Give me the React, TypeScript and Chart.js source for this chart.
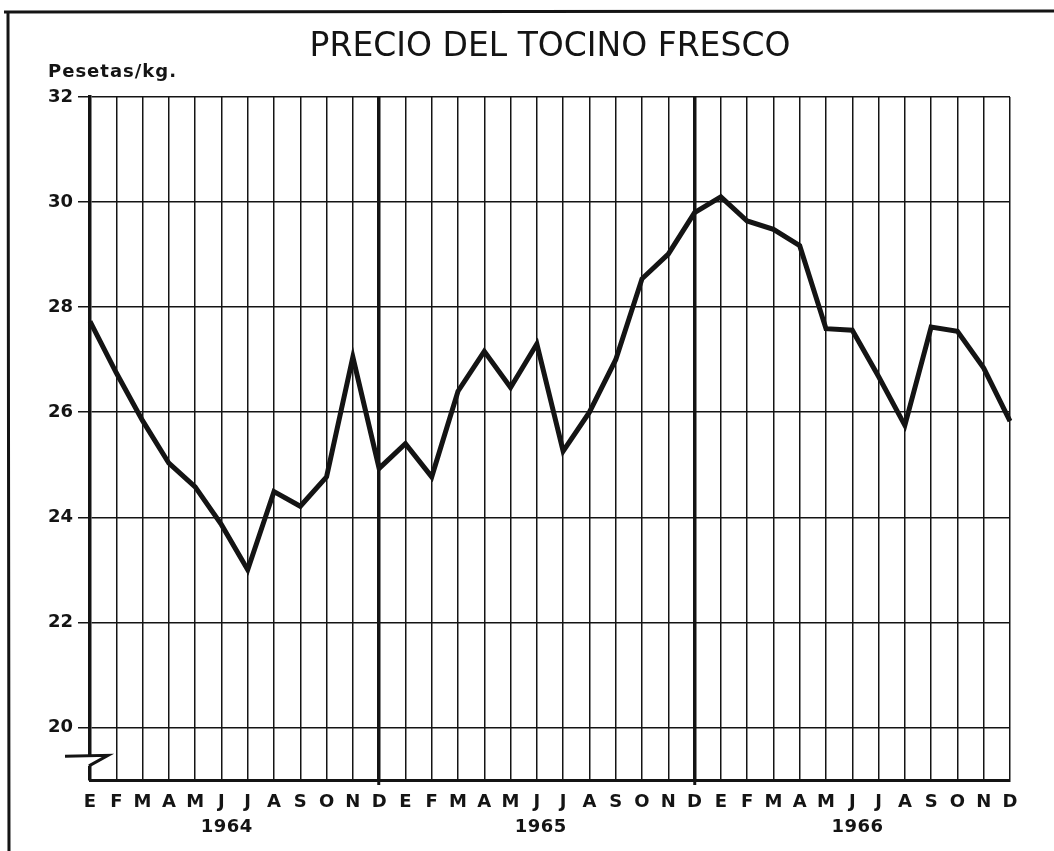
import React, { useEffect, useRef } from 'react';
import { Chart, registerables } from 'chart.js';

Chart.register(...registerables);

const monthLetters = ['E', 'F', 'M', 'A', 'M', 'J', 'J', 'A', 'S', 'O', 'N', 'D'];
const months = [...monthLetters, ...monthLetters, ...monthLetters];
const prices = [
  27.73, 26.75, 25.84, 25.03, 24.58, 23.86, 23.0, 24.49, 24.21, 24.77, 27.05, 24.93,
  25.4, 24.77, 26.4, 27.16, 26.47, 27.3, 25.26, 26.0, 27.0, 28.54, 29.01, 29.8,
  30.1, 29.64, 29.48, 29.17, 27.59, 27.56, 26.68, 25.75, 27.62, 27.54, 26.84, 25.83,
];
const yTickValues = [20, 22, 24, 26, 28, 30, 32];
const years = ['1964', '1965', '1966'];
const yearCenters = [5.2, 17.15, 29.2];
const yearEndIndexes = [11, 23];

const INK = '#141414';

const decorPlugin = {
  id: 'decor',
  beforeDraw(chart: any) {
    const ctx = chart.ctx;
    ctx.save();
    ctx.strokeStyle = INK;
    ctx.lineWidth = 3;
    ctx.beginPath();
    ctx.moveTo(4, 12);
    ctx.lineTo(1054, 11);
    ctx.moveTo(8, 11);
    ctx.lineTo(9, 851);
    ctx.stroke();
    ctx.restore();
  },
  afterDraw(chart: any) {
    const ctx = chart.ctx;
    const xs = chart.scales.x;
    const ys = chart.scales.y;
    const area = chart.chartArea;
    ctx.save();
    // axis break symbol
    const yTop = ys.getPixelForValue(19.47);
    const yBot = ys.getPixelForValue(19.27);
    ctx.fillStyle = '#ffffff';
    ctx.fillRect(area.left - 3, yTop, 6, yBot - yTop);
    ctx.strokeStyle = INK;
    ctx.lineWidth = 3;
    ctx.lineJoin = 'miter';
    ctx.beginPath();
    ctx.moveTo(area.left - 25, yTop + 1);
    ctx.lineTo(area.left + 18, yTop);
    ctx.lineTo(area.left - 1, yBot);
    ctx.stroke();
    // y-axis unit label
    ctx.fillStyle = INK;
    ctx.font = 'bold 18px "DejaVu Sans"';
    (ctx as any).letterSpacing = '1px';
    ctx.textAlign = 'left';
    ctx.textBaseline = 'alphabetic';
    ctx.fillText('Pesetas/kg.', 48, area.top - 20);
    // year labels
    ctx.font = 'bold 18px "DejaVu Sans"';
    (ctx as any).letterSpacing = '0.5px';
    ctx.textAlign = 'center';
    ctx.textBaseline = 'middle';
    years.forEach((yr, i) => {
      ctx.fillText(yr, xs.getPixelForValue(yearCenters[i]), xs.top + 47);
    });
    ctx.restore();
  },
};

export default function App() {
  const ref = useRef<HTMLCanvasElement>(null);
  useEffect(() => {
    if (!ref.current) return;
    const chart = new Chart(ref.current, {
      type: 'line',
      data: {
        labels: months,
        datasets: [
          {
            data: prices,
            borderColor: INK,
            borderWidth: 5,
            pointRadius: 0,
            tension: 0,
            borderJoinStyle: 'miter',
            fill: false,
          },
        ],
      },
      options: {
        responsive: false,
        animation: false,
        devicePixelRatio: 1,
        layout: { padding: { left: 0, right: 44, top: 0, bottom: 0 } },
        plugins: {
          legend: { display: false },
          tooltip: { enabled: false },
          title: {
            display: true,
            fullSize: false,
            text: 'PRECIO DEL TOCINO FRESCO',
            color: INK,
            font: { family: '"DejaVu Sans"', size: 33, weight: 'normal', lineHeight: 1 },
            padding: { top: 31, bottom: 33 },
          },
        },
        scales: {
          x: {
            type: 'category',
            offset: false,
            afterFit: (s: any) => {
              s.height = 71;
            },
            border: { display: true, color: INK, width: 3 },
            grid: {
              color: INK,
              lineWidth: (c: any) => (yearEndIndexes.includes(c.index) ? 3.5 : 1.5),
              drawTicks: true,
              tickLength: 5,
              tickColor: (c: any) => (yearEndIndexes.includes(c.index) ? INK : 'rgba(0,0,0,0)'),
              tickWidth: 3,
            },
            ticks: {
              color: INK,
              font: { family: '"DejaVu Sans"', size: 18, weight: 'bold' },
              padding: 7,
              maxRotation: 0,
              autoSkip: false,
            },
          },
          y: {
            min: 19,
            max: 32,
            afterFit: (s: any) => {
              s.width = 90;
            },
            afterBuildTicks: (s: any) => {
              s.ticks = yTickValues.map((v) => ({ value: v }));
            },
            border: { display: true, color: INK, width: 3.5 },
            grid: {
              color: INK,
              lineWidth: 1.5,
              drawTicks: true,
              tickLength: 12,
            },
            ticks: {
              color: INK,
              font: { family: '"DejaVu Sans"', size: 18, weight: 'bold' },
              padding: 5,
              autoSkip: false,
            },
          },
        },
      },
      plugins: [decorPlugin],
    });
    return () => chart.destroy();
  }, []);
  return (
    <div style={{ position: 'absolute', left: 0, top: 0, width: 1054, height: 851, background: '#fff' }}>
      <canvas ref={ref} width={1054} height={851} style={{ display: 'block' }} />
    </div>
  );
}
